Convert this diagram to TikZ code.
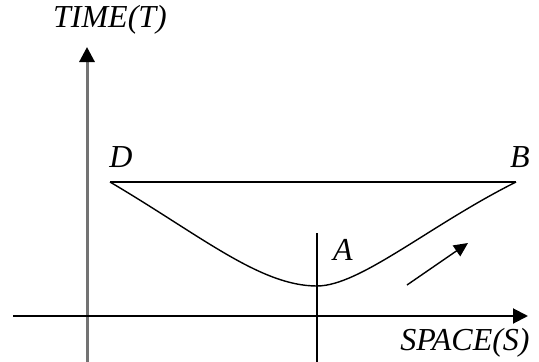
\documentclass[tikz,border=0pt]{standalone}
\usepackage{fontspec}
\setmainfont{Liberation Serif}
\usetikzlibrary{arrows.meta}
\tikzset{
  lbl/.style={font=\fontsize{32}{34}\selectfont\itshape, inner sep=0pt},
  tip/.style={-{Triangle[length=15pt,width=15pt,color=black]}},
  thin line/.style={line width=1.4pt},
}
\begin{document}
\begin{tikzpicture}[x=1pt,y=-1pt]
\useasboundingbox (0,0) rectangle (539,362);
% coordinates
\coordinate (xl) at (13,316);
\coordinate (xr) at (528,316);
\coordinate (yb) at (87,362);
\coordinate (yt) at (87,47);
\coordinate (D) at (110,182);
\coordinate (B) at (516,182);
\coordinate (M) at (317,286);
\coordinate (tt) at (317,233);
\coordinate (tb) at (317,362);
\coordinate (as) at (407,285);
\coordinate (ae) at (468,243);
% axes
\draw[tip, black!55, line width=3pt] (yb) -- (yt);
\draw[tip, line width=2pt] (xl) -- (xr);
% DB line and curve
\draw[line width=2pt] (D) -- (B);
\draw[thin line] (D) .. controls (200,235) and (260,286) .. (M)
  .. controls (360,286) and (430,225) .. (B);
\draw[thin line] (tt) -- (tb);
\draw[thin line, -{Triangle[length=14pt,width=13pt]}] (as) -- (ae);
% labels
\node[lbl] (tlabel) at (110,20) {TIME(T)};
\node[lbl] (slabel) at (465,343) {SPACE(S)};
\node[lbl] (dlabel) at (121,157) {D};
\node[lbl] (blabel) at (520,157) {B};
\node[lbl] (alabel) at (343,250) {A};
\end{tikzpicture}
\end{document}
